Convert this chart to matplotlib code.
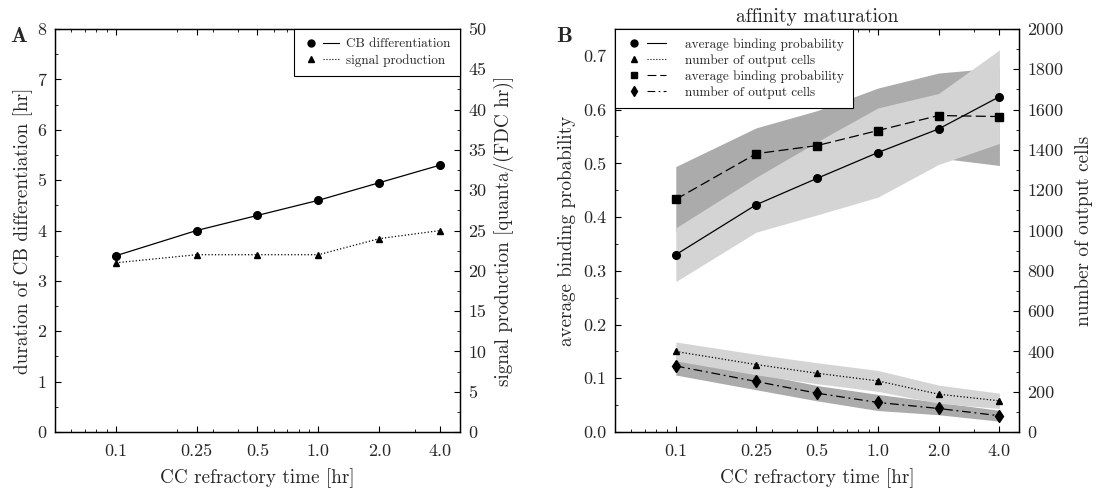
import numpy as np
import matplotlib
matplotlib.use('Agg')
import matplotlib.pyplot as plt
from matplotlib.lines import Line2D
from matplotlib.legend_handler import HandlerTuple
from matplotlib.ticker import MultipleLocator, LogLocator, NullFormatter, FormatStrFormatter

plt.rcParams['font.family'] = 'cmr10'
plt.rcParams['axes.unicode_minus'] = False

# CC refractory times [hr]
refractory = [0.1, 0.25, 0.5, 1.0, 2.0, 4.0]
tick_labels = ['0.1', '0.25', '0.5', '1.0', '2.0', '4.0']

# panel A
cb_duration = [3.5, 4.0, 4.3, 4.6, 4.95, 5.3]
signal_prod = [21, 22, 22, 22, 24, 25]

# panel B, first and second setup (mean and spread)
bind_prob_1 = [0.330, 0.423, 0.472, 0.520, 0.564, 0.624]
bind_sd_1 = [0.050, 0.051, 0.068, 0.083, 0.066, 0.087]
bind_prob_2 = [0.433, 0.518, 0.533, 0.561, 0.589, 0.587]
bind_sd_2 = [0.061, 0.048, 0.065, 0.079, 0.079, 0.091]
out_cells_1 = [400, 335, 292, 254, 188, 155]
out_sd_1 = [47, 51, 52, 52, 45, 38]
out_cells_2 = [328, 251, 193, 147, 117, 81]
out_sd_2 = [45, 41, 38, 40, 31, 27]

TXT = '#262626'
DARK = '#ababab'
LIGHT = '#d4d4d4'
TICK_FS = 13
LABEL_FS = 13.8


def style_x(ax):
    ax.set_xscale('log')
    ax.set_xlim(0.05, 5)
    ax.set_xticks(refractory)
    ax.set_xticklabels(tick_labels)
    ax.xaxis.set_minor_locator(LogLocator(base=10, subs=np.arange(2, 10)))
    ax.xaxis.set_minor_formatter(NullFormatter())
    ax.tick_params(axis='x', which='both', direction='in', top=True, pad=8,
                   labelsize=TICK_FS, labelcolor=TXT)
    ax.tick_params(axis='x', which='major', length=4)
    ax.tick_params(axis='x', which='minor', length=2.5)
    ax.set_xlabel('CC refractory time [hr]', fontsize=LABEL_FS, color=TXT, labelpad=7)


def style_y(ax, side):
    ax.tick_params(axis='y', which='both', direction='in', labelsize=TICK_FS,
                   labelcolor=TXT, pad=6, left=(side == 'left'), right=(side == 'right'))
    ax.tick_params(axis='y', which='major', length=4)
    ax.tick_params(axis='y', which='minor', length=2.5)


def key(marker, ms, **line_kw):
    return (Line2D([], [], color='k', marker=marker, ms=ms, ls='none'),
            Line2D([], [], color='k', lw=0.8, **line_kw))


fig = plt.figure(figsize=(10.99, 4.91), dpi=100)
axA = fig.add_axes([0.050, 0.120, 0.3686, 0.821])
axB = fig.add_axes([0.5596, 0.120, 0.3676, 0.821])

# ---- A ----
axA2 = axA.twinx()
axA.plot(refractory, cb_duration, color='k', lw=0.9, marker='o', ms=5.5)
axA2.plot(refractory, signal_prod, color='k', lw=0.9, ls=':', marker='^', ms=5)
axA.set_ylim(0, 8)
axA2.set_ylim(0, 50)
axA.yaxis.set_major_locator(MultipleLocator(1))
axA.yaxis.set_minor_locator(MultipleLocator(0.5))
axA2.yaxis.set_major_locator(MultipleLocator(5))
axA2.yaxis.set_minor_locator(MultipleLocator(2.5))
style_x(axA)
style_y(axA, 'left')
style_y(axA2, 'right')
axA.set_ylabel('duration of CB differentiation [hr]', fontsize=LABEL_FS, color=TXT, labelpad=3)
axA2.set_ylabel('signal production [quanta/(FDC hr)]', fontsize=LABEL_FS, color=TXT, labelpad=5)

legA = axA2.legend([key('o', 5, ls='-'), key('^', 4.5, ls=':')],
                   ['CB differentiation', 'signal production'],
                   handler_map={tuple: HandlerTuple(ndivide=None, pad=0.3)},
                   loc='upper right', borderaxespad=0, fancybox=False, framealpha=1,
                   edgecolor='k', fontsize=9.5, handlelength=2.7, labelspacing=0.3,
                   borderpad=0.7, handletextpad=0.6)
legA.get_frame().set_linewidth(0.8)
for t in legA.get_texts():
    t.set_color(TXT)

# ---- B ----
axB2 = axB.twinx()
lo2 = np.array(bind_prob_2) - np.array(bind_sd_2)
hi2 = np.array(bind_prob_2) + np.array(bind_sd_2)
lo1 = np.array(bind_prob_1) - np.array(bind_sd_1)
hi1 = np.array(bind_prob_1) + np.array(bind_sd_1)
axB.fill_between(refractory, lo2, hi2, color=DARK, lw=0)
axB.fill_between(refractory, lo1, hi1, color=LIGHT, lw=0)
axB.plot(refractory, bind_prob_1, color='k', lw=0.9, marker='o', ms=5.5)
axB.plot(refractory, bind_prob_2, color='k', lw=0.9, dashes=(8, 3.5), marker='s', ms=5.5)

oc1 = np.array(out_cells_1)
oc2 = np.array(out_cells_2)
axB2.fill_between(refractory, oc2 - out_sd_2, oc2 + out_sd_2, color=DARK, lw=0)
axB2.fill_between(refractory, oc1 - out_sd_1, oc1 + out_sd_1, color=LIGHT, lw=0)
axB2.plot(refractory, out_cells_1, color='k', lw=0.9, ls=':', marker='^', ms=5)
axB2.plot(refractory, out_cells_2, color='k', lw=0.9, dashes=(7, 3, 1.5, 3), marker='d', ms=6)

axB.set_ylim(0, 0.75)
axB2.set_ylim(0, 2000)
axB.yaxis.set_major_locator(MultipleLocator(0.1))
axB.yaxis.set_minor_locator(MultipleLocator(0.05))
axB.yaxis.set_major_formatter(FormatStrFormatter('%.1f'))
axB2.yaxis.set_major_locator(MultipleLocator(200))
axB2.yaxis.set_minor_locator(MultipleLocator(100))
style_x(axB)
style_y(axB, 'left')
style_y(axB2, 'right')
axB.set_ylabel('average binding probability', fontsize=LABEL_FS, color=TXT, labelpad=5)
axB2.set_ylabel('number of output cells', fontsize=LABEL_FS, color=TXT, labelpad=8)
axB.set_title('affinity maturation', fontsize=14, color=TXT, pad=5)

legB = axB2.legend([key('o', 5, ls='-'), key('^', 4.5, ls=':'),
                    key('s', 5, dashes=(8, 3.5)), key('d', 5.5, dashes=(7, 3, 1.5, 3))],
                   ['average binding probability', 'number of output cells',
                    'average binding probability', 'number of output cells'],
                   handler_map={tuple: HandlerTuple(ndivide=None, pad=0.3)},
                   loc='upper left', borderaxespad=0, fancybox=False, framealpha=1,
                   edgecolor='k', fontsize=9.5, handlelength=3.2, labelspacing=0.25,
                   borderpad=0.7, handletextpad=1.4)
legB.get_frame().set_linewidth(0.8)
for t in legB.get_texts():
    t.set_color(TXT)

for ax in (axA, axA2, axB, axB2):
    for s in ax.spines.values():
        s.set_linewidth(0.9)

fig.text(0.009, 0.915, 'A', fontsize=16, family='cmb10', color=TXT)
fig.text(0.506, 0.915, 'B', fontsize=16, family='cmb10', color=TXT)

fig.savefig('out.png', dpi=100)
